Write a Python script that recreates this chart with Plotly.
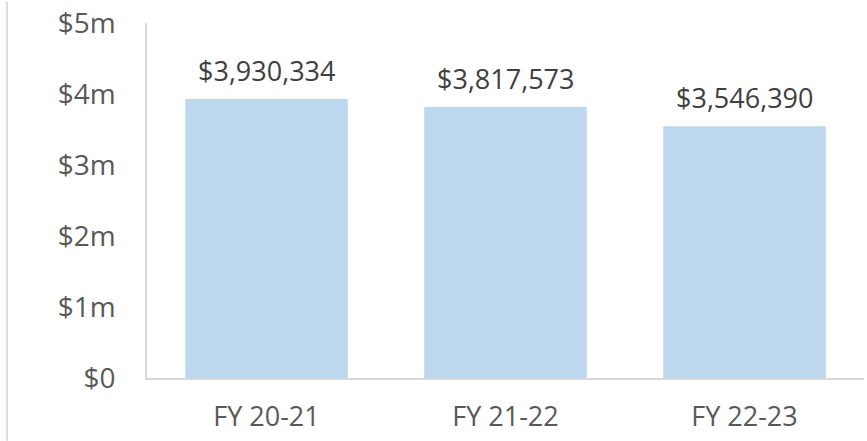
import plotly.graph_objects as go

categories = ["FY 20-21", "FY 21-22", "FY 22-23"]
values = [3930334, 3817573, 3546390]
tick_vals = [0, 1e6, 2e6, 3e6, 4e6, 5e6]
tick_text = ["$0", "$1m", "$2m", "$3m", "$4m", "$5m"]

FONT = "Open Sans"

fig = go.Figure(go.Bar(
    x=categories, y=values,
    marker=dict(color="#BDD7EE", line=dict(width=0)),
    hoverinfo="skip",
))

for c, v in zip(categories, values):
    fig.add_annotation(
        x=c, y=v, text="${:,}".format(v), showarrow=False,
        yanchor="bottom", yshift=8,
        font=dict(family=FONT, size=27, color="#404040"),
    )

W, H = 867, 441
L, R, T, B = 147, 3, 21, 63
pw, ph = W - L - R, H - T - B
fig.add_shape(type="line", xref="paper", yref="paper",
              x0=(7 - L) / pw, x1=(7 - L) / pw,
              y0=-(B) / ph, y1=(H - B) / ph,
              line=dict(color="#D0D0D0", width=1.5))

fig.update_layout(
    width=W, height=H,
    margin=dict(l=L, r=R, t=T, b=B),
    paper_bgcolor="white", plot_bgcolor="white",
    bargap=0.32, showlegend=False,
    font=dict(family=FONT, size=27, color="#595959"),
    xaxis=dict(showline=True, linecolor="#D9D9D9", linewidth=1.5,
               showgrid=False, ticks="", ticklabelstandoff=14,
               tickfont=dict(family=FONT, size=27, color="#595959")),
    yaxis=dict(range=[0, 5e6], tickvals=tick_vals, ticktext=tick_text,
               showline=True, linecolor="#D9D9D9", linewidth=1.5,
               showgrid=False, zeroline=False, ticks="",
               ticklabelstandoff=24,
               tickfont=dict(family=FONT, size=28, color="#595959")),
)

fig.write_html("out.html")
